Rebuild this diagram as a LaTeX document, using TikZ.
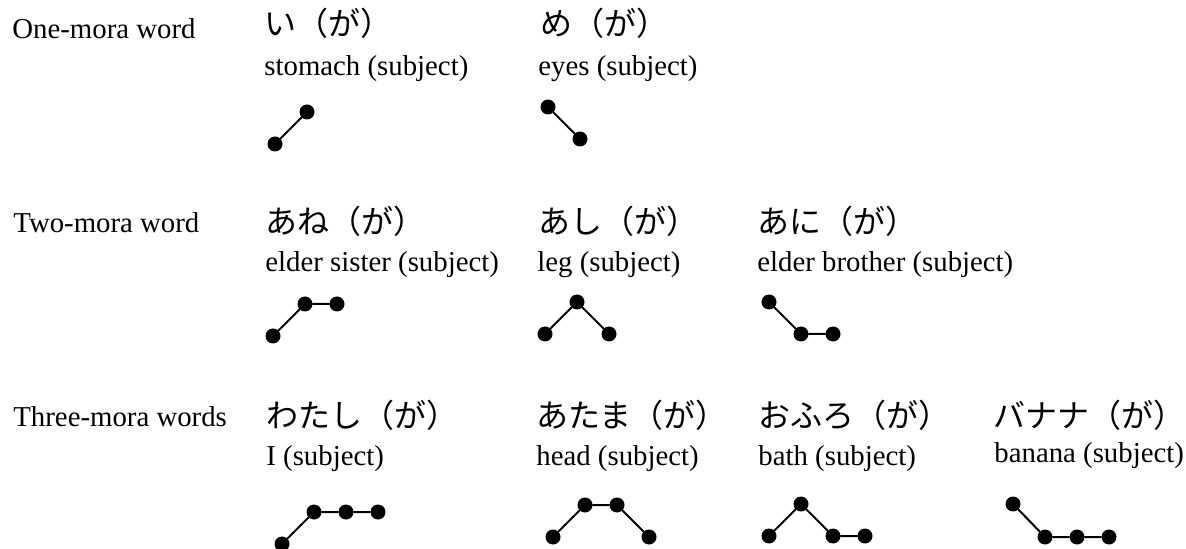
\documentclass[tikz,border=0pt]{standalone}
\usepackage{fontspec}
\setmainfont{Liberation Serif}
\newfontfamily\jpfont{Noto Sans CJK JP}
\tikzset{
  mora/.style={circle,fill,inner sep=0pt,minimum size=7.5pt},
  pitch/.style={line width=1pt},
  txt/.style={anchor=base west,inner sep=0pt,font=\fontsize{14.4}{17}\selectfont},
  kana/.style={anchor=base west,inner sep=0pt,font=\jpfont\fontsize{16}{19}\selectfont}
}
\begin{document}
\begin{tikzpicture}[x=0.5pt,y=-0.5pt,line join=round,line cap=round]
	\useasboundingbox (0,0) rectangle (1186,549);
	% one mora
	\node[txt] (one) at (12,39) {One-mora word};
	\node[kana] (i) at (264,36) {い（が）};
	\node[txt] (gi) at (264,76) {stomach (subject)};
	\node[mora] (i1) at (275,144) {};
	\node[mora] (i2) at (307,112) {};
	\draw[pitch] (i1)--(i2);
	\node[kana] (me) at (540,36) {め（が）};
	\node[txt] (gme) at (538,76) {eyes (subject)};
	\node[mora] (me1) at (548,107) {};
	\node[mora] (me2) at (580,139) {};
	\draw[pitch] (me1)--(me2);
	% two mora
	\node[txt] (two) at (13,233) {Two-mora word};
	\node[kana] (ane) at (265,234) {あね（が）};
	\node[txt] (gane) at (265,272) {elder sister (subject)};
	\node[mora] (ane1) at (273,336) {};
	\node[mora] (ane2) at (305,304) {};
	\node[mora] (ane3) at (337,304) {};
	\draw[pitch] (ane1)--(ane2)--(ane3);
	\node[kana] (ashi) at (538,234) {あし（が）};
	\node[txt] (gashi) at (537,272) {leg (subject)};
	\node[mora] (ashi1) at (545,334) {};
	\node[mora] (ashi2) at (577,302) {};
	\node[mora] (ashi3) at (609,334) {};
	\draw[pitch] (ashi1)--(ashi2)--(ashi3);
	\node[kana] (ani) at (757,234) {あに（が）};
	\node[txt] (gani) at (757,272) {elder brother (subject)};
	\node[mora] (ani1) at (769,302) {};
	\node[mora] (ani2) at (801,334) {};
	\node[mora] (ani3) at (833,334) {};
	\draw[pitch] (ani1)--(ani2)--(ani3);
	% three mora
	\node[txt] (three) at (13,426) {Three-mora words};
	\node[kana] (watashi) at (266,427) {わたし（が）};
	\node[txt] (gwatashi) at (266,465) {I (subject)};
	\node[mora] (watashi1) at (282,544) {};
	\node[mora] (watashi2) at (314,512) {};
	\node[mora] (watashi3) at (346,512) {};
	\node[mora] (watashi4) at (378,512) {};
	\draw[pitch] (watashi1)--(watashi2)--(watashi3)--(watashi4);
	\node[kana] (atama) at (536,427) {あたま（が）};
	\node[txt] (gatama) at (536,465) {head (subject)};
	\node[mora] (atama1) at (553,537) {};
	\node[mora] (atama2) at (585,505) {};
	\node[mora] (atama3) at (617,505) {};
	\node[mora] (atama4) at (649,537) {};
	\draw[pitch] (atama1)--(atama2)--(atama3)--(atama4);
	\node[kana] (ofuro) at (758,427) {おふろ（が）};
	\node[txt] (gofuro) at (758,465) {bath (subject)};
	\node[mora] (ofuro1) at (769,536) {};
	\node[mora] (ofuro2) at (801,504) {};
	\node[mora] (ofuro3) at (833,536) {};
	\node[mora] (ofuro4) at (865,536) {};
	\draw[pitch] (ofuro1)--(ofuro2)--(ofuro3)--(ofuro4);
	\node[kana] (banana) at (993,427) {バナナ（が）};
	\node[txt] (gbanana) at (994,462) {banana (subject)};
	\node[mora] (banana1) at (1013,504) {};
	\node[mora] (banana2) at (1045,537) {};
	\node[mora] (banana3) at (1077,537) {};
	\node[mora] (banana4) at (1109,537) {};
	\draw[pitch] (banana1)--(banana2)--(banana3)--(banana4);
\end{tikzpicture}
\end{document}
